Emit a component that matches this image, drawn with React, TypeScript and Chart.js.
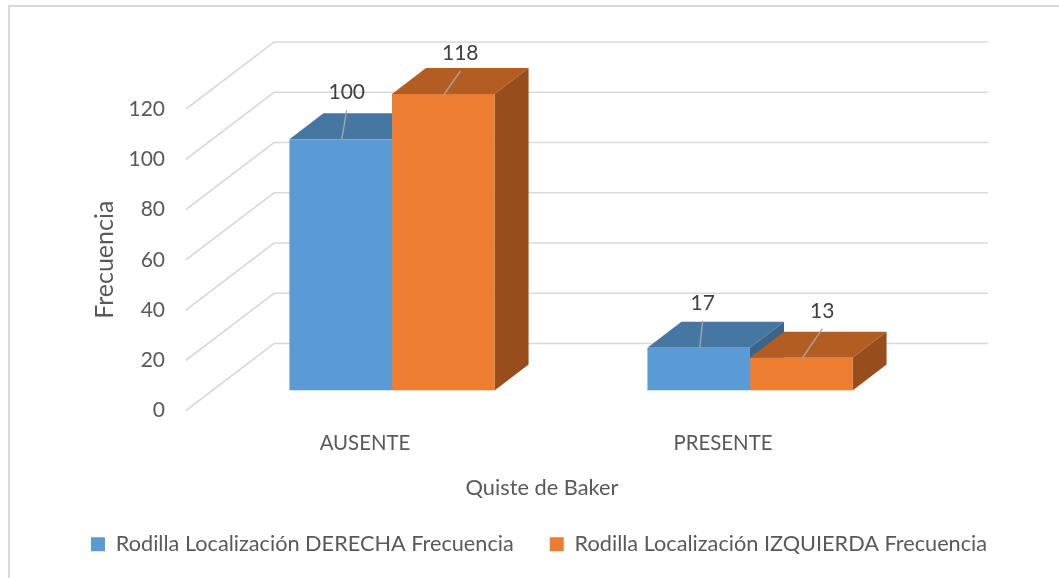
import React, { useEffect, useRef } from "react";
import { Chart, registerables } from "chart.js";

Chart.register(...registerables);

const categories = ["AUSENTE", "PRESENTE"];
const derecha = [100, 17];
const izquierda = [118, 13];
const yTicks = [0, 20, 40, 60, 80, 100, 120];

const FONT = "Lato, Carlito, sans-serif";
const TEXT = "#595959";
const GRID = "#d9d9d9";
const BLUE = { front: "#5b9bd5", top: "#4676a2", side: "#3d6589" };
const ORANGE = { front: "#ed7d31", top: "#b45d22", side: "#974e1c" };
const SERIES_FACES = [BLUE, ORANGE];

// 3D projection of the reference, in pixels
const WALL_DX = 88;
const WALL_BACK_DY = -47;
const WALL_FRONT_DY = 20;
const BAR_DX = 34;
const BAR_DY = -26;
// data label positions relative to the top centre of each bar [series][category]
const LABEL_OFFSETS = [
  [[6, -47], [4, -45]],
  [[17, -41], [21, -47]],
];
const Y_TITLE_SHIFT = 20;
const LEGEND_SHIFT = -3;

const threeD = {
  id: "threeD",
  afterLayout(chart: any) {
    const legend = chart.legend;
    legend.left += LEGEND_SHIFT;
    legend.right += LEGEND_SHIFT;
    const y = chart.scales.y;
    if (!y.__shifted) {
      y.__shifted = true;
      const draw = y.drawTitle;
      y.drawTitle = function () {
        chart.ctx.save();
        chart.ctx.translate(0, Y_TITLE_SHIFT);
        draw.call(this);
        chart.ctx.restore();
      };
    }
  },
  beforeDatasetsDraw(chart: any) {
    const { ctx, scales } = chart;
    const y = scales.y;
    const left = 186;
    const wallX = left + WALL_DX;
    const right = 988;
    ctx.save();
    // outer frame
    ctx.strokeStyle = GRID;
    ctx.lineWidth = 2;
    ctx.beginPath();
    ctx.moveTo(9, 578);
    ctx.lineTo(9, 6);
    ctx.lineTo(1059, 6);
    ctx.stroke();
    // walls
    ctx.lineWidth = 1.6;
    yTicks.forEach((v) => {
      const p = y.getPixelForValue(v);
      ctx.beginPath();
      ctx.moveTo(left, p + WALL_FRONT_DY);
      ctx.lineTo(wallX, p + WALL_BACK_DY);
      ctx.lineTo(right, p + WALL_BACK_DY);
      ctx.stroke();
    });
    // bar top & side faces
    categories.forEach((_, i) => {
      chart.data.datasets.forEach((_d: any, s: number) => {
        const bar = chart.getDatasetMeta(s).data[i];
        const props = bar.getProps(["x", "y", "base", "width"], true);
        const l = props.x - props.width / 2;
        const r = props.x + props.width / 2;
        const t = props.y;
        const b = props.base;
        const faces = SERIES_FACES[s];
        ctx.fillStyle = faces.top;
        ctx.beginPath();
        ctx.moveTo(l, t);
        ctx.lineTo(l + BAR_DX, t + BAR_DY);
        ctx.lineTo(r + BAR_DX, t + BAR_DY);
        ctx.lineTo(r, t);
        ctx.closePath();
        ctx.fill();
        ctx.fillStyle = faces.side;
        ctx.beginPath();
        ctx.moveTo(r, t);
        ctx.lineTo(r + BAR_DX, t + BAR_DY);
        ctx.lineTo(r + BAR_DX, b + BAR_DY);
        ctx.lineTo(r, b);
        ctx.closePath();
        ctx.fill();
      });
    });
    ctx.restore();
  },
  afterDatasetsDraw(chart: any) {
    const { ctx } = chart;
    ctx.save();
    chart.data.datasets.forEach((d: any, s: number) => {
      chart.getDatasetMeta(s).data.forEach((bar: any, i: number) => {
        const props = bar.getProps(["x", "y"], true);
        const [ox, oy] = LABEL_OFFSETS[s][i];
        ctx.strokeStyle = "#a6a6a6";
        ctx.lineWidth = 1.4;
        ctx.beginPath();
        ctx.moveTo(props.x + 1, props.y);
        ctx.lineTo(props.x + ox, props.y + oy + 18);
        ctx.stroke();
        ctx.fillStyle = "#404040";
        ctx.font = `21px ${FONT}`;
        ctx.textAlign = "center";
        ctx.textBaseline = "middle";
        ctx.fillText(String(d.data[i]), props.x + ox, props.y + oy);
      });
    });
    ctx.restore();
  },
};

export default function App() {
  const ref = useRef<HTMLCanvasElement>(null);
  useEffect(() => {
    const chart = new Chart(ref.current!, {
      type: "bar",
      data: {
        labels: categories,
        datasets: [
          {
            label: "Rodilla Localización DERECHA Frecuencia",
            data: derecha,
            backgroundColor: BLUE.front,
          },
          {
            label: "Rodilla Localización IZQUIERDA Frecuencia",
            data: izquierda,
            backgroundColor: ORANGE.front,
          },
        ],
      },
      options: {
        animation: false,
        responsive: false,
        layout: { padding: { top: 89, left: 25, right: 0, bottom: 13 } },
        datasets: { bar: { categoryPercentage: 0.573, barPercentage: 1 } },
        scales: {
          x: {
            grid: { display: false },
            border: { display: false },
            ticks: {
              color: TEXT,
              font: { family: FONT, size: 20.4 },
              padding: 33,
              labelOffset: -27,
              maxRotation: 0,
            },
            afterFit: (s: any) => {
              s.height = 87;
            },
          },
          y: {
            min: 0,
            max: 120,
            grid: { display: false },
            border: { display: false },
            ticks: {
              stepSize: 20,
              color: TEXT,
              font: { family: FONT, size: 21 },
              padding: 40,
              labelOffset: WALL_FRONT_DY,
            },
            title: {
              display: true,
              text: "Frecuencia",
              color: TEXT,
              font: { family: FONT, size: 25 },
              padding: { top: 65, bottom: 0 },
            },
            afterFit: (s: any) => {
              s.width = 188;
            },
          },
          spacer: {
            position: "right",
            grid: { display: false },
            border: { display: false },
            ticks: { display: false },
            afterFit: (s: any) => {
              s.width = 130;
            },
          },
        },
        plugins: {
          tooltip: { enabled: false },
          title: {
            display: true,
            text: "Quiste de Baker",
            position: "bottom",
            weight: 500,
            color: TEXT,
            font: { family: FONT, size: 21.8, weight: "normal", lineHeight: 1 },
            padding: { top: 0, bottom: -2 },
          },
          legend: {
            display: true,
            position: "bottom",
            labels: {
              color: TEXT,
              font: { family: FONT, size: 21.7 },
              boxWidth: 14,
              boxHeight: 14,
              padding: 36,
            },
          },
        },
      } as any,
      plugins: [threeD],
    });
    return () => chart.destroy();
  }, []);
  return (
    <div style={{ position: "absolute", left: 0, top: 0, width: 1059, height: 578 }}>
      <canvas ref={ref} width={1059} height={578} style={{ display: "block" }} />
    </div>
  );
}
